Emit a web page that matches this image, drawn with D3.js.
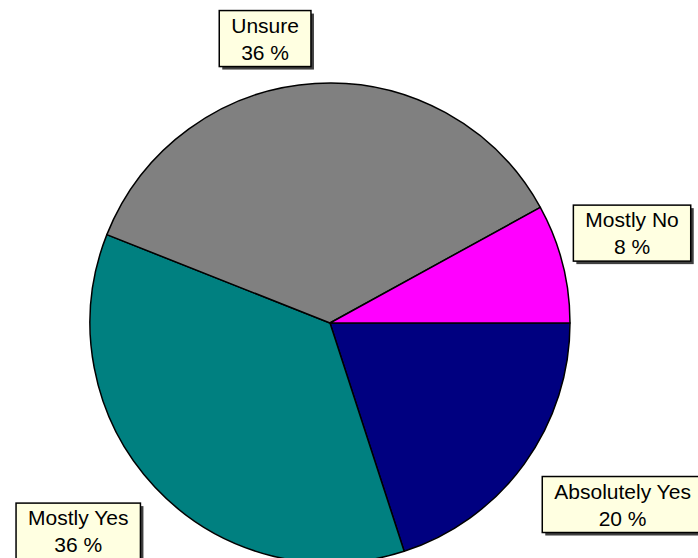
<!DOCTYPE html>
<html>
<head>
<meta charset="utf-8">
<script src="https://cdn.jsdelivr.net/npm/d3@7"></script>
<style>
  body { margin: 0; background: #fff; }
  svg { display: block; }
  text { font-family: "Liberation Sans", Arial, sans-serif; font-size: 21px; fill: #000; }
</style>
</head>
<body>
<svg width="698" height="558"></svg>
<script>
// slice order goes clockwise from 3 o'clock
var categories = ["Absolutely Yes", "Mostly Yes", "Unsure", "Mostly No"],
    values = [20, 36, 36, 8],
    colours = ["#000080", "#008080", "#808080", "#ff00ff"];

// hand nudges for the callout boxes, relative to an outer-arc centroid
var labelNudge = [[62, 14], [-44, 13], [-47, 0], [26, -19]];

var svg = d3.select("svg"),
    cx = 330, cy = 323,
    radius = 240,
    g = svg.append("g").attr("transform", "translate(" + cx + "," + cy + ")");

var records = categories.map((c, i) => ({ name: c, value: values[i], colour: colours[i], nudge: labelNudge[i] }));

var pie = d3.pie()
    .sort(null)
    .value(d => d.value)
    .startAngle(Math.PI / 2)
    .endAngle(Math.PI / 2 + 2 * Math.PI);

var arc = d3.arc().innerRadius(0).outerRadius(radius),
    outer = d3.arc().innerRadius(radius + 45).outerRadius(radius + 45);

var arcs = pie(records);

g.selectAll(".slice")
    .data(arcs)
    .enter().append("path")
    .attr("class", "slice")
    .attr("d", arc)
    .style("fill", d => d.data.colour)
    .style("stroke", "#000")
    .style("stroke-width", 1.5)
    .style("stroke-linejoin", "round");

var total = d3.sum(values);

var labels = g.selectAll(".label")
    .data(arcs)
    .enter().append("g")
    .attr("class", "label")
    .attr("transform", d => {
        var c = outer.centroid(d);
        return "translate(" + (c[0] + d.data.nudge[0]) + "," + (c[1] + d.data.nudge[1]) + ")";
    });

labels.each(function (d) {
    var lab = d3.select(this),
        pct = Math.round(d.data.value / total * 100) + " %";

    var shadow = lab.append("rect"),
        box = lab.append("rect");

    var t1 = lab.append("text")
        .attr("text-anchor", "middle")
        .attr("y", -6)
        .text(d.data.name);
    lab.append("text")
        .attr("text-anchor", "middle")
        .attr("y", 21)
        .text(pct);

    var w = t1.node().getComputedTextLength() + 24,
        h = 56;

    shadow
        .attr("x", -w / 2 + 3).attr("y", -h / 2 + 3)
        .attr("width", w).attr("height", h)
        .style("fill", "#404040");
    box
        .attr("x", -w / 2).attr("y", -h / 2)
        .attr("width", w).attr("height", h)
        .style("fill", "#ffffe1")
        .style("stroke", "#000")
        .style("stroke-width", 1.5);
});
</script>
</body>
</html>
